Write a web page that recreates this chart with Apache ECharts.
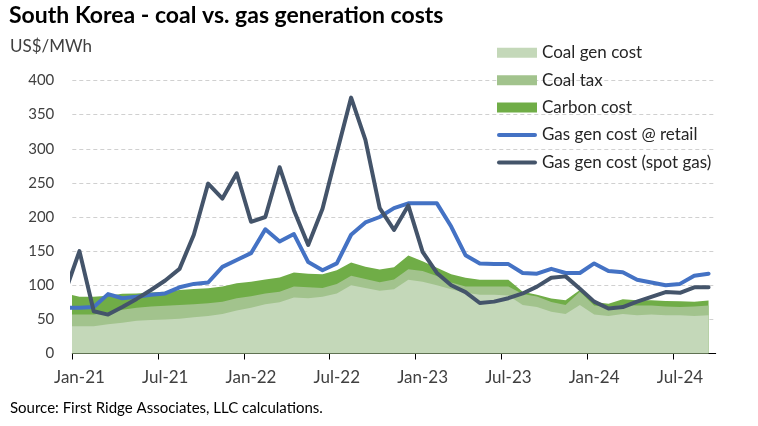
<!DOCTYPE html>
<html>
<head>
<meta charset="utf-8">
<title>South Korea - coal vs. gas generation costs</title>
<script src="https://cdn.jsdelivr.net/npm/echarts@6/dist/echarts.min.js"></script>
<style>
html, body { margin: 0; padding: 0; background: #fff; }
#chart { width: 758px; height: 426px; }
</style>
</head>
<body>
<div id="chart"></div>
<script>
// monthly points, plotted mid-month; Dec-20 only shows as the clipped start at the left edge
const months = ['Dec-20',
  'Jan-21', 'Feb-21', 'Mar-21', 'Apr-21', 'May-21', 'Jun-21', 'Jul-21', 'Aug-21', 'Sep-21', 'Oct-21', 'Nov-21', 'Dec-21',
  'Jan-22', 'Feb-22', 'Mar-22', 'Apr-22', 'May-22', 'Jun-22', 'Jul-22', 'Aug-22', 'Sep-22', 'Oct-22', 'Nov-22', 'Dec-22',
  'Jan-23', 'Feb-23', 'Mar-23', 'Apr-23', 'May-23', 'Jun-23', 'Jul-23', 'Aug-23', 'Sep-23', 'Oct-23', 'Nov-23', 'Dec-23',
  'Jan-24', 'Feb-24', 'Mar-24', 'Apr-24', 'May-24', 'Jun-24', 'Jul-24', 'Aug-24', 'Sep-24'];

const tickLabels = ['Jan-21', 'Jul-21', 'Jan-22', 'Jul-22', 'Jan-23', 'Jul-23', 'Jan-24', 'Jul-24'];

const coalGen = [40,
  40, 40, 43, 45, 48, 49, 50, 51, 53, 55, 58, 63,
  67, 72, 75, 82, 81, 83, 88, 100, 96, 92, 94, 108,
  105, 100, 94, 89, 86, 86, 85, 71, 68, 61, 58, 71,
  57, 55, 58, 56, 57, 56, 56, 55, 56];

const coalTax = [17,
  17, 17, 17, 19, 19, 20, 20, 20, 19, 18.5, 18, 18,
  17, 16, 15.5, 16, 16, 13, 14, 14, 13, 12.5, 14.5, 15.5,
  16, 13.5, 10, 9, 12, 12, 13, 16, 15.5, 14.5, 13, 19.5,
  13.5, 13, 13, 14.5, 13.5, 13, 12, 14, 14.5];

const carbon = [31,
  26, 26, 24.5, 23.5, 21, 20.5, 20.5, 22, 22.5, 22, 22, 22,
  21, 20.5, 21, 20.5, 20, 20, 20, 19.5, 18, 18.5, 18, 20,
  14, 12, 12, 13, 10, 10, 10, 3.5, 2.5, 5, 7, 2.5,
  5, 5, 8.5, 7.5, 7.5, 8, 8.5, 7, 7];

const gasRetail = [67,
  67, 68, 87, 81, 83, 86, 88, 97, 102, 104, 127, 137,
  147, 182, 164, 175, 134, 122, 132, 174, 192, 200, 213, 220,
  220, 220, 186, 144, 132, 131, 131, 118, 117, 124, 118, 118,
  132, 121, 119, 108, 104, 100, 102, 114, 117];

const gasSpot = [90,
  150, 62, 57, 68, 80, 93, 107, 124, 174, 249, 227, 264,
  193, 200, 273, 210, 159, 212, 294, 375, 313, 213, 181, 217,
  149, 118, 100, 90, 74, 76, 81, 88, 98, 111, 113, 95,
  76, 66, 68, 76, 83, 90, 89, 97, 97];

// running totals for the stacked coal areas (drawn back to front)
const taxTop = coalGen.map((v, k) => v + coalTax[k]);
const carbonTop = taxTop.map((v, k) => v + carbon[k]);

// x position: month index, Jan-21 band is 0..1, its point sits at 0.5
function pts(arr) {
  return arr.map((v, k) => [k - 0.5, v]);
}

const chart = echarts.init(document.getElementById('chart'));

const areaSeries = (name, data, color, z) => ({
  name: name,
  type: 'line',
  data: pts(data),
  symbol: 'none',
  lineStyle: { width: 0 },
  areaStyle: { color: color, opacity: 1 },
  itemStyle: { color: color },
  emphasis: { disabled: true },
  z: z
});

const lineSeries = (name, data, color) => ({
  name: name,
  type: 'line',
  data: pts(data),
  symbol: 'none',
  lineStyle: { width: 4, color: color, cap: 'round', join: 'round' },
  itemStyle: { color: color },
  emphasis: { disabled: true },
  z: 5
});

const lineIcon = 'path://M2,0 L38,0 A2,2 0 0 1 38,4 L2,4 A2,2 0 0 1 2,0 Z';

chart.setOption({
  animation: false,
  textStyle: { fontFamily: 'Lato, sans-serif' },
  grid: { left: 72.3, right: 42.3, top: 80.5, bottom: 72.5 },
  graphic: [
    { type: 'text', left: 9, top: 4,
      style: { text: 'South Korea - coal vs. gas generation costs', font: 'bold 23px Lato', fill: '#000' } },
    { type: 'text', left: 10, top: 38,
      style: { text: 'US$/MWh', font: '17px Lato', fill: '#404040' } },
    { type: 'text', left: 10, top: 401,
      style: { text: 'Source: First Ridge Associates, LLC calculations.', font: '15px Lato', fill: '#000' } }
  ],
  legend: {
    orient: 'vertical',
    left: 492,
    top: 39.3,
    itemWidth: 40,
    itemHeight: 10,
    itemGap: 10.4,
    selectedMode: false,
    textStyle: { fontSize: 17, color: '#262626', fontFamily: 'Lato' },
    data: [
      { name: 'Coal gen cost', icon: 'rect' },
      { name: 'Coal tax', icon: 'rect' },
      { name: 'Carbon cost', icon: 'rect' },
      { name: 'Gas gen cost @ retail', icon: lineIcon },
      { name: 'Gas gen cost (spot gas)', icon: lineIcon }
    ]
  },
  xAxis: {
    type: 'value',
    min: 0,
    max: 45,
    axisLine: { show: true, lineStyle: { color: '#000', width: 1 } },
    axisTick: {
      show: true, length: 6, lineStyle: { color: '#000' },
      customValues: tickLabels.map((_, j) => j * 6)
    },
    axisLabel: {
      fontSize: 17, color: '#404040', margin: 16,
      customValues: tickLabels.map((_, j) => j * 6 + 0.5),
      formatter: v => tickLabels[Math.round((v - 0.5) / 6)]
    },
    splitLine: { show: false }
  },
  yAxis: {
    type: 'value',
    min: 0,
    max: 400,
    interval: 50,
    axisLine: { show: false },
    axisTick: { show: false },
    axisLabel: { fontSize: 15, color: '#404040', margin: 18 },
    splitLine: { lineStyle: { color: '#d0d0d0', width: 1, type: [4, 3] } }
  },
  series: [
    areaSeries('Coal gen cost', coalGen, '#c4d8b9', 3),
    areaSeries('Coal tax', taxTop, '#a2c38d', 2),
    areaSeries('Carbon cost', carbonTop, '#70ad47', 1),
    lineSeries('Gas gen cost @ retail', gasRetail, '#4472c4'),
    lineSeries('Gas gen cost (spot gas)', gasSpot, '#44546a')
  ]
});
</script>
</body>
</html>
